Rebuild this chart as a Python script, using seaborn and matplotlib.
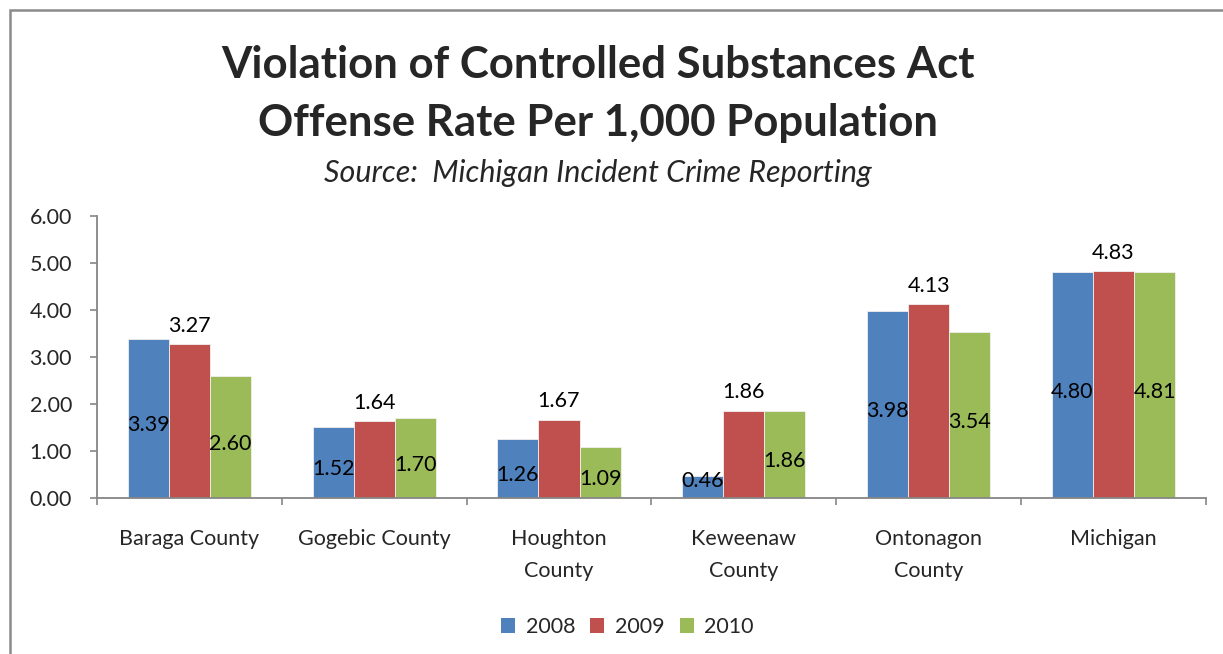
import matplotlib
matplotlib.use("Agg")
import matplotlib.pyplot as plt
import matplotlib.patches as mpatches
import numpy as np
import pandas as pd
import seaborn as sns

# Data
categories = ["Baraga County", "Gogebic County", "Houghton\nCounty",
              "Keweenaw\nCounty", "Ontonagon\nCounty", "Michigan"]
years = ["2008", "2009", "2010"]
rate_2008 = [3.39, 1.52, 1.26, 0.46, 3.98, 4.80]
rate_2009 = [3.27, 1.64, 1.67, 1.86, 4.13, 4.83]
rate_2010 = [2.60, 1.70, 1.09, 1.86, 3.54, 4.81]
y_ticks = [0, 1, 2, 3, 4, 5, 6]

df = pd.DataFrame({
    "Area": categories * 3,
    "Year": [y for y in years for _ in categories],
    "Rate": rate_2008 + rate_2009 + rate_2010,
})

sns.set_theme(style="white")
plt.rcParams["font.family"] = ["Lato", "DejaVu Sans"]

palette = {"2008": "#4F81BD", "2009": "#C0504D", "2010": "#9BBB59"}
axis_gray = "#868686"
fs = 15.5

fig = plt.figure(figsize=(12.23, 6.54), dpi=100)
ax = fig.add_axes([0.0793, 0.2385, 0.9067, 0.4312])

sns.barplot(data=df, x="Area", y="Rate", hue="Year", order=categories,
            hue_order=years, palette=palette, width=0.667, gap=0,
            edgecolor="#f0f0f0", linewidth=0.6, saturation=1,
            ax=ax, legend=False)

# Value labels: 2009 above the bar, 2008 & 2010 inside near the middle
for year, cont in zip(years, ax.containers):
    if year == "2009":
        ax.bar_label(cont, fmt="%.2f", label_type="edge", padding=6,
                     fontsize=fs, color="black")
    else:
        for bar in cont:
            h = bar.get_height()
            xc = bar.get_x() + bar.get_width() / 2
            ax.annotate(f"{h:.2f}", xy=(xc, max(h / 2, 0.5)),
                        xytext=(0, -5), textcoords="offset points",
                        ha="center", va="center", fontsize=fs, color="black")

ax.set_ylim(0, 6)
ax.set_xlim(-0.5, len(categories) - 0.5)
ax.set_yticks(y_ticks)
ax.set_yticklabels([f"{v:.2f}" for v in y_ticks], fontsize=fs)
ax.set_xlabel("")
ax.set_ylabel("")

# Category labels centred, tick marks at category boundaries
ax.set_xticks(np.arange(len(categories)))
ax.set_xticklabels(categories, fontsize=fs, linespacing=1.75)
ax.set_xticks(np.arange(len(categories) + 1) - 0.5, minor=True)
ax.tick_params(axis="x", which="major", length=0, pad=22)
ax.tick_params(axis="x", which="minor", length=5, width=1.2,
               color=axis_gray, direction="out", bottom=True)
ax.tick_params(axis="y", which="major", length=5, width=1.2,
               color=axis_gray, direction="out", left=True, pad=13)

for side in ["top", "right"]:
    ax.spines[side].set_visible(False)
for side in ["left", "bottom"]:
    ax.spines[side].set_color(axis_gray)
    ax.spines[side].set_linewidth(1.3)

# Titles
fig.text(0.489, 0.90, "Violation of Controlled Substances Act",
         ha="center", va="center", fontsize=31.5, fontweight="bold")
fig.text(0.489, 0.812, "Offense Rate Per 1,000 Population",
         ha="center", va="center", fontsize=31.5, fontweight="bold")
fig.text(0.489, 0.736, "Source:  Michigan Incident Crime Reporting",
         ha="center", va="center", fontsize=22, style="italic")

# Legend
handles = [mpatches.Patch(facecolor=palette[y], edgecolor="none", label=y)
           for y in years]
fig.legend(handles=handles, loc="center", bbox_to_anchor=(0.513, 0.041),
           ncol=3, frameon=False, fontsize=fs, handlelength=0.65,
           handleheight=0.65, handletextpad=0.5, columnspacing=0.7)

# Chart-area border
fig.patches.append(mpatches.Rectangle((10 / 1223, -0.1), 1.2, 1 - 10 / 654 + 0.1,
                                      transform=fig.transFigure, fill=False,
                                      edgecolor="#8a8a8a", linewidth=1.8,
                                      figure=fig))

fig.savefig("out.png", dpi=100)
